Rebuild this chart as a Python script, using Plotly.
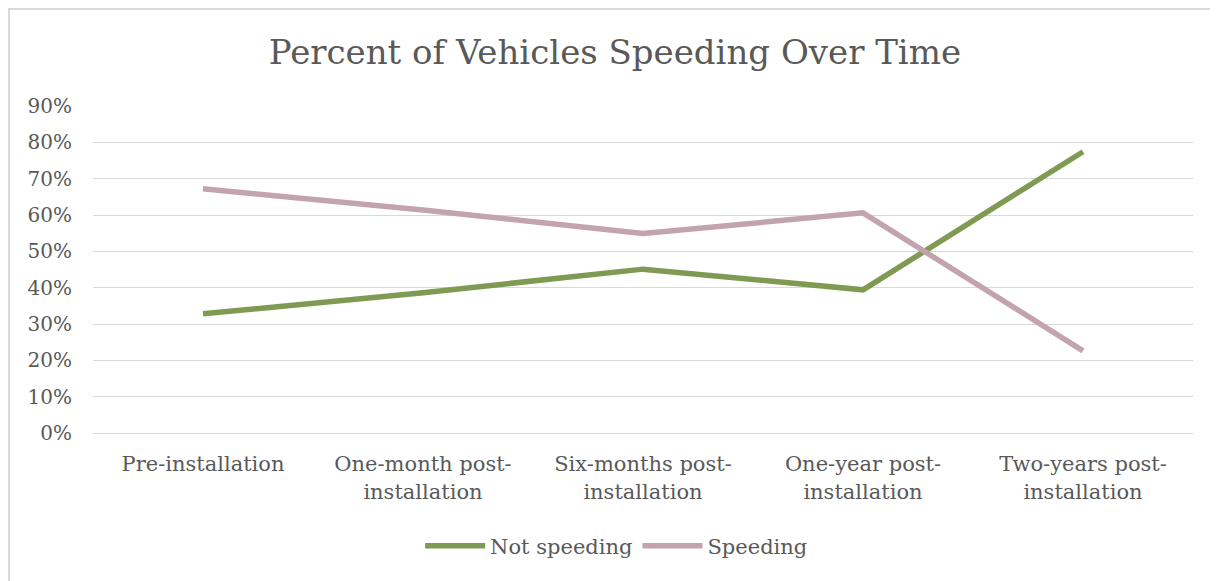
import plotly.graph_objects as go

# data
stages = [
    "Pre-installation",
    "One-month post-<br>installation",
    "Six-months post-<br>installation",
    "One-year post-<br>installation",
    "Two-years post-<br>installation",
]
not_speeding = [0.328, 0.386, 0.451, 0.394, 0.774]
speeding = [0.672, 0.614, 0.549, 0.606, 0.226]
y_ticks = [0, 0.1, 0.2, 0.3, 0.4, 0.5, 0.6, 0.7, 0.8, 0.9]

FONT = "DejaVu Serif"
TEXT = "#595959"
GRID = "#d9d9d9"

# page body adds an 8px offset, so the figure is 8px smaller
W, H = 1210, 573

fig = go.Figure()
fig.add_trace(
    go.Scatter(
        x=stages,
        y=not_speeding,
        mode="lines",
        name="Not speeding",
        line=dict(color="#7E9A53", width=5.5),
    )
)
fig.add_trace(
    go.Scatter(
        x=stages,
        y=speeding,
        mode="lines",
        name="Speeding",
        line=dict(color="#C2A3AF", width=5.5),
    )
)

# light frame around the chart area
fig.add_shape(
    type="rect",
    xref="paper",
    yref="paper",
    x0=-84 / 1100,
    x1=1.1,
    y0=-0.6,
    y1=424 / 327,
    line=dict(color=GRID, width=2),
    fillcolor="rgba(0,0,0,0)",
)

fig.update_layout(
    width=W,
    height=H,
    margin=dict(l=85, r=25, t=98, b=148),
    paper_bgcolor="white",
    plot_bgcolor="white",
    font=dict(family=FONT, color=TEXT, size=20),
    title=dict(
        text="Percent of Vehicles Speeding Over Time",
        font=dict(family=FONT, size=34, color=TEXT),
        x=0.4745,
        xref="paper",
        xanchor="center",
        y=1 - 44 / H,
        yref="container",
        yanchor="middle",
    ),
    legend=dict(
        orientation="h",
        x=0.476,
        xanchor="center",
        y=-0.3456,
        yanchor="middle",
        itemwidth=60,
        font=dict(family=FONT, size=21, color=TEXT),
    ),
    showlegend=True,
)
fig.update_xaxes(
    type="category",
    range=[-0.5, 4.5],
    showgrid=False,
    showline=True,
    linecolor=GRID,
    linewidth=1,
    ticks="",
    tickfont=dict(family=FONT, size=21, color=TEXT),
    ticklabelstandoff=12,
)
fig.update_yaxes(
    range=[0, 0.9],
    tickvals=y_ticks,
    tickformat=".0%",
    showgrid=True,
    gridcolor=GRID,
    gridwidth=1,
    zeroline=False,
    showline=False,
    tickfont=dict(family=FONT, size=20, color=TEXT),
    ticklabelstandoff=20,
)

fig.write_html("out.html")
